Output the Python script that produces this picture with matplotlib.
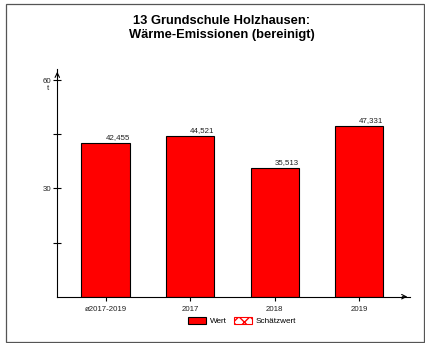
import matplotlib
matplotlib.use("Agg")
import matplotlib.pyplot as plt
from matplotlib.patches import Patch, Rectangle

plt.rcParams['font.family'] = ['Liberation Sans', 'DejaVu Sans']

# data
categories = ['ø2017-2019', '2017', '2018', '2019']
values = [42.455, 44.521, 35.513, 47.331]
value_labels = ['42,455', '44,521', '35,513', '47,331']
title = '13 Grundschule Holzhausen:\nWärme-Emissionen (bereinigt)'

fig = plt.figure(figsize=(4.25, 3.43), dpi=100)
ax = fig.add_axes([0.1348, 0.135, 0.965 - 0.1348, 0.799 - 0.135])

x = range(len(categories))
bw = 0.57
ax.bar(x, values, width=bw, color='#ff0000', edgecolor='black', linewidth=0.8)
for i, v in enumerate(values):
    ax.text(i + bw / 2, v + 0.6, value_labels[i], ha='right', va='bottom',
            fontsize=5.7, color='#222222')

ax.set_xlim(-0.571, 3.60)
ax.set_ylim(0, 63.07)

for s in ['top', 'right']:
    ax.spines[s].set_visible(False)
ax.spines['left'].set_linewidth(0.8)
ax.spines['bottom'].set_linewidth(0.8)

# arrow heads
ax.annotate('', xy=(1.0, 0), xytext=(0.97, 0), xycoords='axes fraction',
            arrowprops=dict(arrowstyle='->', lw=0.8, color='black', mutation_scale=8))
ax.annotate('', xy=(0, 1.0), xytext=(0, 0.96), xycoords='axes fraction',
            arrowprops=dict(arrowstyle='->', lw=0.8, color='black', mutation_scale=8))

ax.set_xticks(list(x))
ax.set_xticklabels(categories, fontsize=5.7, color='#222222')
ax.set_yticks([0, 15, 30, 45, 60])
ax.set_yticklabels(['', '', '30', '', '60'], fontsize=5.7, color='#222222')
ax.tick_params(axis='y', direction='inout', length=6, width=0.8, pad=1)
ax.tick_params(axis='x', direction='out', length=3, width=0.8, pad=4)
ax.yaxis.get_major_ticks()[0].tick1line.set_visible(False)
ax.text(-0.024, 57.6, 't', transform=ax.get_yaxis_transform(), fontsize=5.7,
        ha='right', va='center', color='#222222')

fig.text(0.522, 0.918, title, ha='center', va='center', fontsize=9.3,
         fontweight='bold', linespacing=1.2)

handles = [Patch(facecolor='#ff0000', edgecolor='black', linewidth=0.8),
           Patch(facecolor='white', edgecolor='#ff0000', hatch='xxx', linewidth=0.8)]
fig.legend(handles, ['Wert', 'Schätzwert'], loc='center', bbox_to_anchor=(0.57, 0.064),
           ncol=2, frameon=False, fontsize=5.9, handlelength=2.2, handleheight=0.9,
           handletextpad=0.5, columnspacing=0.8)

fig.patches.append(Rectangle((5.5 / 425, 1.5 / 343), 418 / 425, 338 / 343,
                             transform=fig.transFigure, fill=False,
                             edgecolor='#555555', linewidth=0.9))

fig.savefig('out.png', dpi=100)
